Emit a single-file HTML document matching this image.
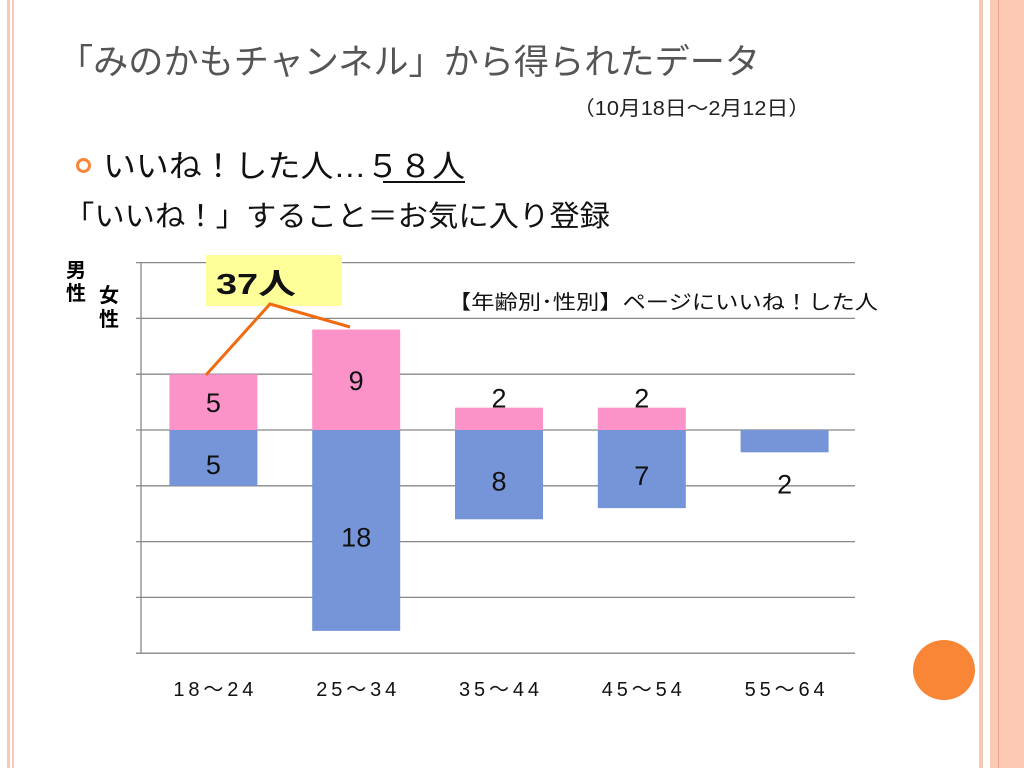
<!DOCTYPE html>
<html><head><meta charset="utf-8"><style>
body{margin:0;width:1024px;height:768px;background:#fff;overflow:hidden;font-family:"Liberation Sans","Noto Sans CJK JP",sans-serif;position:relative}
</style></head><body>
<div style="position:absolute;left:7px;top:0;width:3px;height:768px;background:#f9c8b6"></div>
<div style="position:absolute;left:12px;top:0;width:2px;height:768px;background:#f9c8b6"></div>
<div style="position:absolute;left:979px;top:0;width:4px;height:768px;background:#fbc8b4"></div>
<div style="position:absolute;left:990px;top:0;width:34px;height:768px;background:#fbc9b4"></div>
<div style="position:absolute;left:998px;top:0;width:1px;height:768px;background:#e8a890"></div>
<div style="position:absolute;left:913px;top:640px;width:62px;height:60px;border-radius:50%;background:#f98637"></div>
<div style="position:absolute;left:76px;top:158px;width:9px;height:9px;border:3px solid #f98637;border-radius:50%"></div>

<svg width="1024" height="768" style="position:absolute;left:0;top:0" font-family="Liberation Sans, Noto Sans CJK JP, sans-serif">
<text x="58" y="74" font-size="35" fill="#555" textLength="702" lengthAdjust="spacingAndGlyphs">「みのかもチャンネル」から得られたデータ</text>
<text x="573" y="115" font-size="20" fill="#222" textLength="237" lengthAdjust="spacingAndGlyphs">（10月18日～2月12日）</text>
<text x="103" y="177" font-size="31" fill="#111" textLength="362" lengthAdjust="spacingAndGlyphs">いいね！した人…５８人</text>
<line x1="383" x2="465" y1="182" y2="182" stroke="#111" stroke-width="2"/>
<text x="64" y="226" font-size="29" fill="#111" textLength="546" lengthAdjust="spacingAndGlyphs">「いいね！」すること＝お気に入り登録</text>
<g id="grid"></g><g id="bars"></g><g id="labels"></g>
<rect x="206" y="255" width="136" height="51" fill="#ffff99"/>
<text x="216" y="294" font-size="29" font-weight="bold" fill="#111" textLength="80" lengthAdjust="spacingAndGlyphs">37人</text>
<polyline points="206,375 270,304 350,327" fill="none" stroke="#f06a10" stroke-width="3"/>
<text x="66" y="277" font-size="20" font-weight="bold">男</text>
<text x="66" y="300" font-size="20" font-weight="bold">性</text>
<text x="99" y="302" font-size="20" font-weight="bold">女</text>
<text x="99" y="326" font-size="20" font-weight="bold">性</text>
<text x="448" y="309" font-size="20" fill="#111" textLength="430" lengthAdjust="spacingAndGlyphs">【年齢別･性別】ページにいいね！した人</text>
</svg>
<script>
const categories=["18～24","25～34","35～44","45～54","55～64"];
const female=[5,9,2,2,0];
const male=[5,18,8,7,2];
const gridTicks=[-20,-15,-10,-5,0,5,10,15];
const NS="http://www.w3.org/2000/svg";
const x0=141,x1=855,zero=430,unit=55.8/5;
const y=v=>zero-v*unit;
const band=(x1-x0)/categories.length;
function mk(tag,attrs,parent){const e=document.createElementNS(NS,tag);for(const k in attrs)e.setAttribute(k,attrs[k]);document.getElementById(parent).appendChild(e);return e;}
gridTicks.forEach(t=>{
  const l=mk('line',{x1:x0-5,x2:x1,y1:y(t),y2:y(t),stroke:'#888','stroke-width':1.3},'grid');
  
  
});
const ax=mk('line',{x1:x0,x2:x0,y1:y(15),y2:y(-20),stroke:'#888','stroke-width':1.3},'grid');


categories.forEach((c,i)=>{
  const bx=x0+band*i+(band-88)/2+1, cx=bx+44;
  if(female[i]>0){
    const r=mk('rect',{x:bx,y:y(female[i]),width:88,height:female[i]*unit,fill:'#fb92c8'},'bars');
    
    
    const cy=female[i]<3?y(female[i])-10:y(female[i]/2);
    const t=mk('text',{x:cx,y:cy+10,'font-size':27,'text-anchor':'middle',fill:'#111'},'labels');
    t.textContent=female[i];
    
    
  }
  const r=mk('rect',{x:bx,y:zero,width:88,height:male[i]*unit,fill:'#7595d8'},'bars');
  
  
  const cy=male[i]<3?zero+male[i]*unit+31:zero+male[i]*unit/2+6;
  const t=mk('text',{x:cx,y:cy+10,'font-size':27,'text-anchor':'middle',fill:'#111'},'labels');
  t.textContent=male[i];
  
  
  const ct=mk('text',{x:cx,y:696,'font-size':20,'text-anchor':'middle',fill:'#111',textLength:80,lengthAdjust:'spacing'},'labels');
  ct.textContent=c;
  
  
});
</script>
</body></html>
